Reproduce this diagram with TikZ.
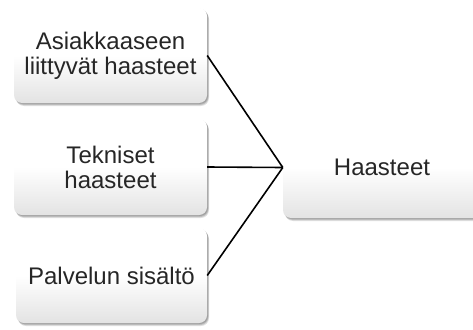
\documentclass[tikz,border=0pt]{standalone}
\usepackage{fontspec}
\setmainfont{Liberation Sans}
\usetikzlibrary{shadows}
\begin{document}
\begin{tikzpicture}[x=1pt,y=-1pt,
  box/.style={rounded corners=8pt, draw=none,
    top color=white, bottom color=black!11, middle color=white,
    shading angle=0,
    text=black!85, align=center,
    font=\fontsize{24}{25}\selectfont, inner sep=0pt,
    drop shadow={shadow xshift=2pt, shadow yshift=-3pt, opacity=0.12, fill=black},
    drop shadow={shadow xshift=1.5pt, shadow yshift=-2pt, opacity=0.15, fill=black},
    drop shadow={shadow xshift=1pt, shadow yshift=-1pt, opacity=0.15, fill=black}},
  link/.style={line width=1.6pt, black}]
\useasboundingbox (0,0) rectangle (473,329);
\clip (0,0) rectangle (473,329);
\fill[white] (0,0) rectangle (473,329);
\node[box, minimum width=193pt, minimum height=95pt] (a) at (110.5,55.5) {Asiakkaaseen\\liittyvät haasteet};
\node[box, minimum width=193pt, minimum height=96pt] (b) at (110.5,167) {Tekniset\\haasteet};
\node[box, minimum width=191pt, minimum height=95pt] (c) at (111.5,275.5) {Palvelun sisältö};
\node[box, minimum width=198pt, minimum height=101pt] (d) at (382,167.5) {Haasteet};
\draw[link] (a.east) -- (d.west);
\draw[link] (b.east) -- (d.west);
\draw[link] (c.east) -- (d.west);
\end{tikzpicture}
\end{document}
